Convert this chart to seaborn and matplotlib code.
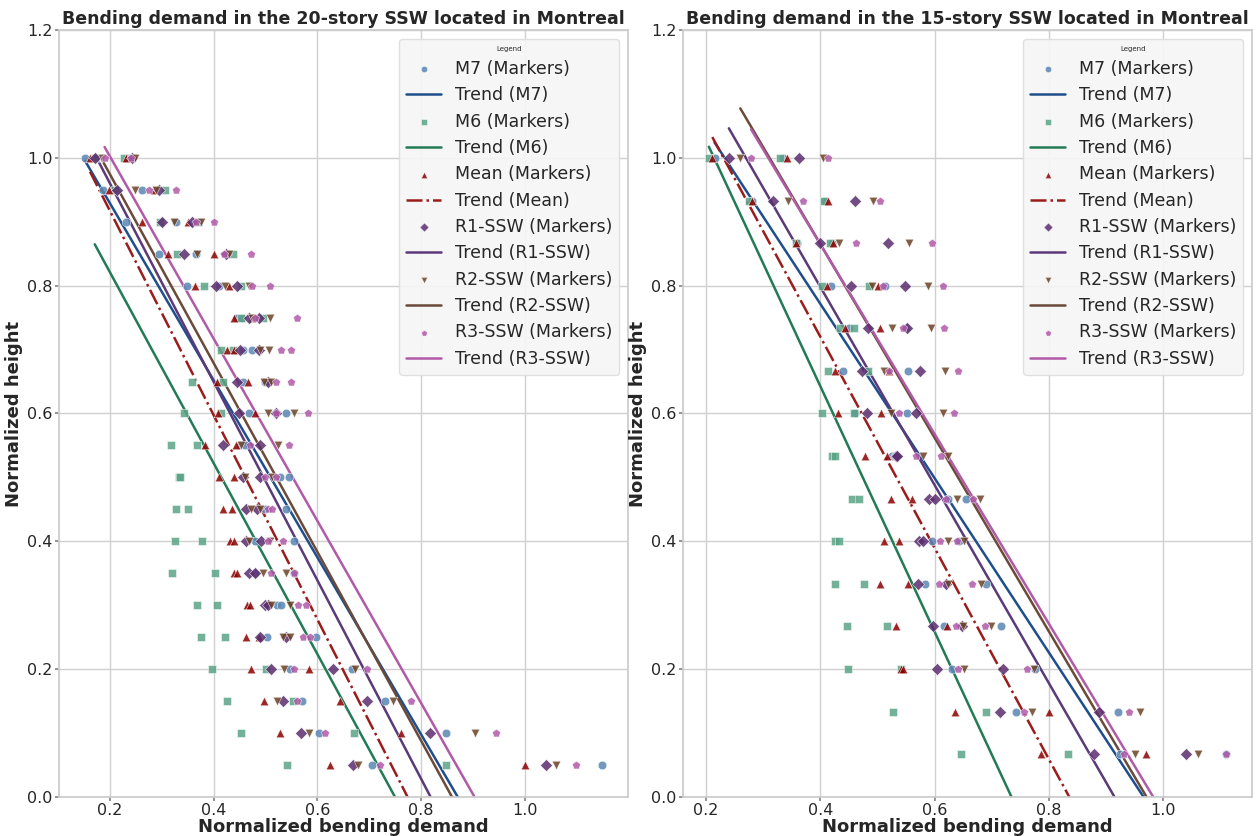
import numpy as np
import pandas as pd
import matplotlib
matplotlib.use("Agg")
import matplotlib.pyplot as plt
import seaborn as sns

sns.set_theme(style="whitegrid")
plt.rcParams['font.family'] = ['DejaVu Sans']

# ---------------- data: 20-story SSW ----------------
heights_20 = [1.00, 0.95, 0.90, 0.85, 0.80, 0.75, 0.70, 0.65, 0.60, 0.55,
              0.50, 0.45, 0.40, 0.35, 0.30, 0.25, 0.20, 0.15, 0.10, 0.05]
m7_20 = [(0.152, 0.235), (0.186, 0.262), (0.232, 0.327), (0.294, 0.366), (0.348, 0.410),
         (0.445, 0.455), (0.456, 0.474), (0.456, 0.500), (0.469, 0.540), (0.451, 0.460),
         (0.529, 0.546), (0.500, 0.539), (0.480, 0.555), (0.479, 0.555), (0.522, 0.530),
         (0.503, 0.597), (0.548, 0.667), (0.570, 0.731), (0.603, 0.848), (0.705, 1.149)]
m6_20 = [(0.171, 0.228), (0.210, 0.307), (0.296, 0.370), (0.330, 0.437), (0.382, 0.452),
         (0.452, 0.495), (0.414, 0.437), (0.358, 0.419), (0.344, 0.414), (0.318, 0.368),
         (0.333, 0.335), (0.327, 0.350), (0.325, 0.377), (0.320, 0.403), (0.369, 0.406),
         (0.375, 0.423), (0.398, 0.502), (0.425, 0.553), (0.453, 0.670), (0.542, 0.848)]
mean_20 = [(0.162, 0.232), (0.199, 0.286), (0.262, 0.350), (0.313, 0.400), (0.364, 0.430),
           (0.440, 0.475), (0.425, 0.440), (0.406, 0.466), (0.408, 0.479), (0.384, 0.443),
           (0.411, 0.440), (0.419, 0.435), (0.432, 0.440), (0.440, 0.445), (0.465, 0.470),
           (0.463, 0.487), (0.472, 0.584), (0.497, 0.643), (0.529, 0.761), (0.625, 1.000)]
r1_20 = [(0.172, 0.243), (0.214, 0.295), (0.300, 0.359), (0.344, 0.424), (0.405, 0.445),
         (0.468, 0.487), (0.451, 0.487), (0.445, 0.505), (0.450, 0.520), (0.419, 0.489),
         (0.456, 0.490), (0.462, 0.484), (0.463, 0.492), (0.468, 0.480), (0.500, 0.505),
         (0.490, 0.540), (0.511, 0.631), (0.534, 0.695), (0.568, 0.817), (0.668, 1.041)]
r2_20 = [(0.185, 0.248), (0.248, 0.290), (0.324, 0.375), (0.369, 0.430), (0.423, 0.469),
         (0.475, 0.508), (0.490, 0.507), (0.498, 0.510), (0.505, 0.555), (0.453, 0.524),
         (0.460, 0.513), (0.472, 0.490), (0.469, 0.508), (0.495, 0.539), (0.511, 0.548),
         (0.534, 0.548), (0.535, 0.673), (0.522, 0.746), (0.584, 0.904), (0.678, 1.060)]
r3_20 = [(0.190, 0.240), (0.276, 0.327), (0.366, 0.400), (0.421, 0.472), (0.474, 0.509),
         (0.480, 0.561), (0.531, 0.550), (0.521, 0.549), (0.520, 0.583), (0.470, 0.546),
         (0.500, 0.521), (0.505, 0.513), (0.505, 0.534), (0.510, 0.556), (0.562, 0.578),
         (0.573, 0.585), (0.555, 0.696), (0.560, 0.780), (0.615, 0.945), (0.720, 1.099)]

# ---------------- data: 15-story SSW ----------------
heights_15 = [1.000, 0.933, 0.867, 0.800, 0.733, 0.667, 0.600, 0.533,
              0.467, 0.400, 0.333, 0.267, 0.200, 0.133, 0.067]
m7_15 = [(0.215, 0.335), (0.280, 0.408), (0.360, 0.420), (0.419, 0.514), (0.450, 0.550),
         (0.440, 0.554), (0.460, 0.552), (0.526, 0.530), (0.623, 0.655), (0.596, 0.643),
         (0.583, 0.690), (0.617, 0.716), (0.630, 0.775), (0.742, 0.921), (0.925, 1.110)]
m6_15 = [(0.205, 0.330), (0.276, 0.406), (0.357, 0.417), (0.403, 0.485), (0.435, 0.459),
         (0.414, 0.484), (0.403, 0.459), (0.420, 0.425), (0.455, 0.467), (0.425, 0.432),
         (0.426, 0.477), (0.447, 0.516), (0.448, 0.541), (0.528, 0.689), (0.646, 0.833)]
mean_15 = [(0.211, 0.341), (0.281, 0.414), (0.358, 0.422), (0.411, 0.501), (0.444, 0.505),
           (0.425, 0.520), (0.431, 0.507), (0.478, 0.517), (0.524, 0.560), (0.512, 0.537),
           (0.505, 0.554), (0.532, 0.622), (0.541, 0.545), (0.635, 0.800), (0.786, 0.970)]
r1_15 = [(0.240, 0.362), (0.318, 0.460), (0.399, 0.519), (0.454, 0.549), (0.484, 0.551),
         (0.473, 0.574), (0.481, 0.568), (0.532, 0.535), (0.591, 0.600), (0.572, 0.580),
         (0.571, 0.620), (0.598, 0.648), (0.605, 0.720), (0.714, 0.887), (0.878, 1.040)]
r2_15 = [(0.260, 0.404), (0.344, 0.492), (0.432, 0.555), (0.491, 0.588), (0.526, 0.593),
         (0.511, 0.618), (0.523, 0.615), (0.579, 0.624), (0.639, 0.680), (0.624, 0.651),
         (0.624, 0.681), (0.650, 0.699), (0.652, 0.773), (0.770, 0.959), (0.951, 1.060)]
r3_15 = [(0.279, 0.413), (0.369, 0.505), (0.463, 0.595), (0.510, 0.615), (0.545, 0.617),
         (0.520, 0.641), (0.538, 0.634), (0.567, 0.611), (0.620, 0.667), (0.610, 0.639),
         (0.607, 0.666), (0.637, 0.688), (0.641, 0.761), (0.757, 0.940), (0.932, 1.110)]

series_names = ["M7", "M6", "Mean", "R1-SSW", "R2-SSW", "R3-SSW"]
marker_styles = ["o", "s", "^", "D", "v", "p"]
marker_colors = ["#5b86b3", "#5aa486", "#8b0000", "#5a2d6e", "#6b4226", "#b05aa8"]
line_colors = ["#1f4e8c", "#237b56", "#9b1c1c", "#5b3a7a", "#6b4a3a", "#b05aa8"]
line_styles = ["-", "-", "-.", "-", "-", "-"]

panels = [
    ("Bending demand in the 20-story SSW located in Montreal", heights_20,
     [m7_20, m6_20, mean_20, r1_20, r2_20, r3_20]),
    ("Bending demand in the 15-story SSW located in Montreal", heights_15,
     [m7_15, m6_15, mean_15, r1_15, r2_15, r3_15]),
]

fig, axes = plt.subplots(1, 2, figsize=(12.6, 8.36), dpi=100)
positions = [[59 / 1260, 39 / 836, 569 / 1260, 767 / 836],
             [683 / 1260, 39 / 836, 569 / 1260, 767 / 836]]

for ax, pos, (title, heights, data) in zip(axes, positions, panels):
    ax.set_position(pos)
    for name, mk, mc, lc, ls, pairs in zip(series_names, marker_styles, marker_colors,
                                           line_colors, line_styles, data):
        rows = []
        for h, (a, b) in zip(heights, pairs):
            rows.append((a, h))
            rows.append((b, h))
        df = pd.DataFrame(rows, columns=["x", "y"])
        sns.scatterplot(data=df, x="x", y="y", marker=mk, color=mc, s=38, alpha=0.85,
                        edgecolor="white", linewidth=0.4, label=f"{name} (Markers)", ax=ax,
                        zorder=3)
        coef = np.polyfit(df["x"], df["y"], 1)
        xs = np.linspace(df["x"].min(), df["x"].max(), 60)
        tdf = pd.DataFrame({"x": xs, "y": np.polyval(coef, xs)})
        sns.lineplot(data=tdf, x="x", y="y", color=lc, linestyle=ls, linewidth=1.8,
                     label=f"Trend ({name})", ax=ax, zorder=2)
    ax.set_ylim(0, 1.2)
    ax.set_title(title, fontsize=12.5, fontweight="bold", pad=4)
    ax.set_xlabel("Normalized bending demand", fontsize=13, fontweight="bold", labelpad=0)
    ax.set_ylabel("Normalized height", fontsize=13, fontweight="bold", labelpad=3)
    ax.tick_params(axis="both", labelsize=11.5, length=3, color="#888888", direction="out",
                   bottom=True, left=True, pad=1.5)
    for sp in ax.spines.values():
        sp.set_color("#cccccc")
    ax.grid(True, color="#d0d0d0", linewidth=1.0)
    leg = ax.legend(title="Legend", title_fontsize=5, fontsize=12.5, loc="upper right",
                    markerscale=0.75, frameon=True, facecolor="#f6f6f6", framealpha=0.9,
                    edgecolor="#dddddd", labelspacing=0.48)

fig.savefig("out.png", dpi=100)
